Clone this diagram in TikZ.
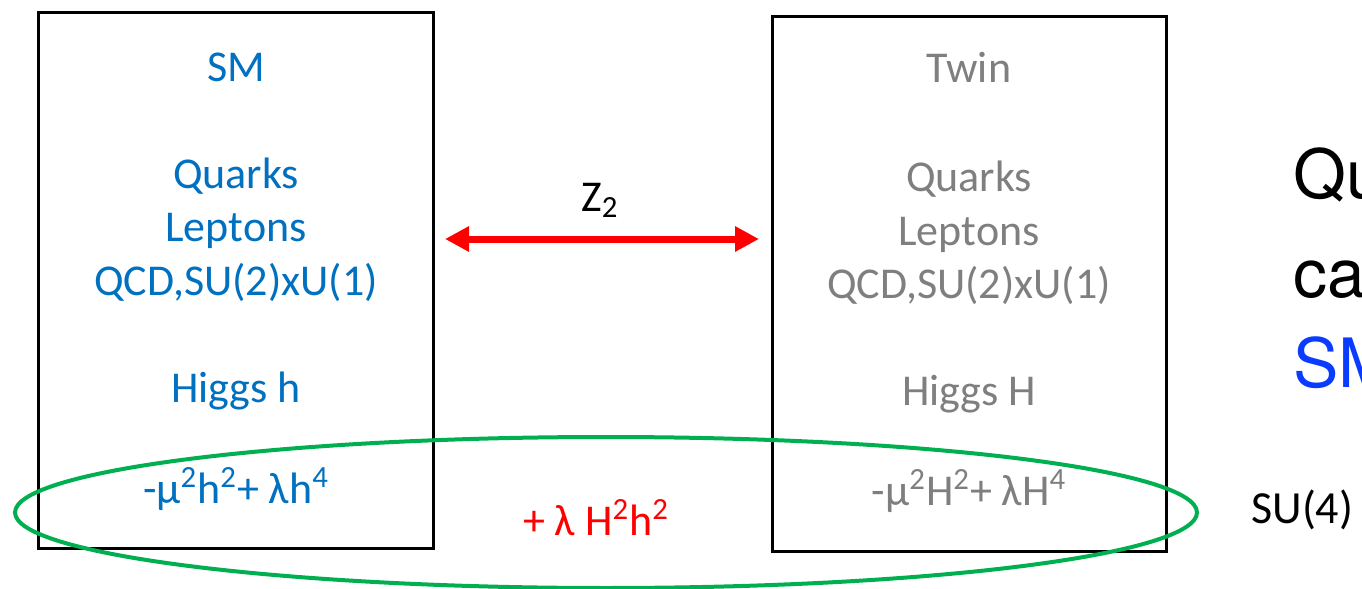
\documentclass[tikz,border=0pt]{standalone}
\usepackage{fontspec}
\setmainfont{Carlito}
\newfontfamily\helv{TeX Gyre Heros}
\usetikzlibrary{arrows.meta}
\definecolor{smblue}{HTML}{0070C0}
\definecolor{twingray}{HTML}{7F7F7F}
\definecolor{zred}{HTML}{FF0000}
\definecolor{egreen}{HTML}{00B050}
\definecolor{bigblue}{HTML}{0A3CFF}
\tikzset{
  panel/.style={draw=black, line width=1.5pt},
  lbl/.style={font=\fontsize{22}{26}\selectfont, anchor=base, inner sep=0pt},
  bigtxt/.style={font=\helv\fontsize{34}{40}\selectfont, anchor=base west, inner sep=0pt},
}
\begin{document}
\begin{tikzpicture}[x=0.5pt,y=-0.5pt]
\useasboundingbox (0,0) rectangle (1362,589);
\fill[white] (0,0) rectangle (1362,589);
% boxes
\draw[panel] (38,12) rectangle (433,548);
\draw[panel] (772,16) rectangle (1166,551);
% left texts
\begin{scope}[every node/.style={lbl, text=smblue}]
\node (sm) at (236,81) {SM};
\node (lq) at (236,188) {Quarks};
\node (ll) at (236,241) {Leptons};
\node (lg) at (236,295) {QCD,SU(2)xU(1)};
\node (lh) at (236,402) {Higgs h};
\node (lp) at (236,503) {-μ\textsuperscript{2}h\textsuperscript{2}+ λh\textsuperscript{4}};
\end{scope}
% right texts
\begin{scope}[every node/.style={lbl, text=twingray}]
\node (tw) at (969,83) {Twin};
\node (rq) at (969,191) {Quarks};
\node (rl) at (969,245) {Leptons};
\node (rg) at (969,298) {QCD,SU(2)xU(1)};
\node (rh) at (969,405) {Higgs H};
\node (rp) at (969,505) {-μ\textsuperscript{2}H\textsuperscript{2}+ λH\textsuperscript{4}};
\end{scope}
% Z2 arrow
\coordinate (al) at (445,239);
\coordinate (ar) at (759,239);
\draw[zred, line width=3.5pt, {Triangle[length=12pt,width=12pt]}-{Triangle[length=12pt,width=12pt]}] (al) -- (ar);
\node[lbl, text=black] (z2) at (600,211) {Z\textsubscript{2}};
% coupling
\node[lbl, text=zred] (cp) at (596,535) {+ λ H\textsuperscript{2}h\textsuperscript{2}};
% SU(4)
\node[lbl, font=\fontsize{23}{27}\selectfont, anchor=base west, text=black] (su) at (1251,523) {SU(4)};
% big right text (cut by the page edge, as in the reference)
\node[bigtxt, text=black] (t1) at (1293,198) {Qu};
\node[bigtxt, text=black] (t2) at (1293,297) {ca};
\node[bigtxt, text=bigblue] (t3) at (1293,387) {SM};
% ellipse
\draw[egreen, line width=2pt] (606,512.5) ellipse [x radius=591, y radius=75.5];
\end{tikzpicture}
\end{document}
